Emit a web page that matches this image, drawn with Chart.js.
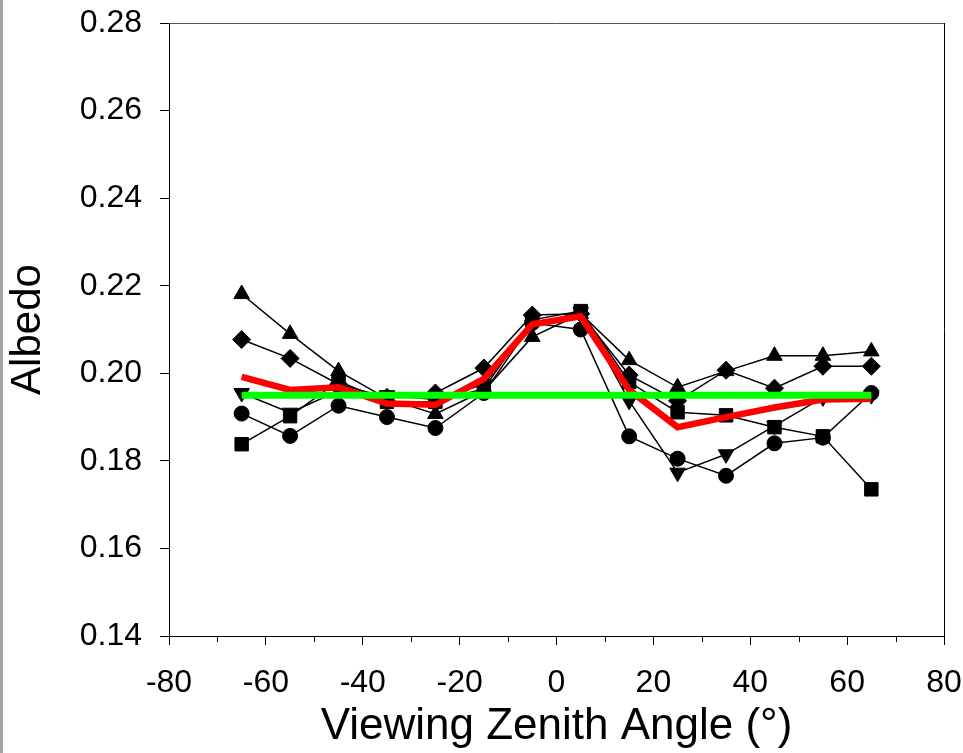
<!DOCTYPE html>
<html>
<head>
<meta charset="utf-8">
<title>Albedo vs viewing zenith angle</title>
<script src="https://cdn.jsdelivr.net/npm/chart.js@4"></script>
<style>
  html, body { margin: 0; padding: 0; background: #fff; }
  #wrap { position: relative; width: 963px; height: 753px; }
  #edge { position: absolute; left: 0; top: 0; width: 3px; height: 753px; background: #a6a6a6; }
</style>
</head>
<body>
<div id="wrap">
  <canvas id="albedo-chart" width="963" height="753"></canvas>
  <div id="edge"></div>
</div>
<script>
// viewing zenith angles (deg)
const ANGLES = [-65, -55, -45, -35, -25, -15, -5, 5, 15, 25, 35, 45, 55, 65];

// individual albedo runs
const RUN_TRI_UP   = [0.2181, 0.2090, 0.2005, 0.1942, 0.1907, 0.1960, 0.2083, 0.2136, 0.2030, 0.1968, 0.2005, 0.2040, 0.2040, 0.2050];
const RUN_DIAMOND  = [0.2077, 0.2034, 0.1975, 0.1945, 0.1955, 0.2012, 0.2133, 0.2136, 0.1996, 0.1937, 0.2007, 0.1966, 0.2016, 0.2016];
const RUN_TRI_DOWN = [0.1955, 0.1910, 0.1960, 0.1950, 0.1940, 0.1975, 0.2110, 0.2140, 0.1937, 0.1773, 0.1815, 0.1880, 0.1945, 0.1950];
const RUN_CIRCLE   = [0.1908, 0.1857, 0.1926, 0.1900, 0.1875, 0.1955, 0.2115, 0.2100, 0.1856, 0.1805, 0.1766, 0.1840, 0.1853, 0.1955];
const RUN_SQUARE   = [0.1838, 0.1902, 0.1982, 0.1935, 0.1935, 0.1965, 0.2122, 0.2142, 0.1980, 0.1911, 0.1904, 0.1877, 0.1856, 0.1735];

// mean curve and flat reference
const MEAN_ALBEDO = [0.1992, 0.1962, 0.1968, 0.1931, 0.1928, 0.1987, 0.2112, 0.2130, 0.1962, 0.1877, 0.1900, 0.1922, 0.1940, 0.1942];
const FLAT_ALBEDO = [0.195, 0.195, 0.195, 0.195, 0.195, 0.195, 0.195, 0.195, 0.195, 0.195, 0.195, 0.195, 0.195, 0.195];

const X_MIN = -80, X_MAX = 80, X_STEP = 20;
const Y_MIN = 0.14, Y_MAX = 0.28, Y_STEP = 0.02;

const FONT = "'Liberation Sans', Arial, sans-serif";

function toPoints(values) {
  return values.map((v, i) => ({ x: ANGLES[i], y: v }));
}

function runDataset(label, values, style, rotation, radius, order) {
  return {
    label,
    data: toPoints(values),
    borderColor: "#000",
    borderWidth: 1.5,
    backgroundColor: "#000",
    pointStyle: style,
    pointRotation: rotation,
    pointRadius: radius,
    pointBorderWidth: 1,
    pointBackgroundColor: "#000",
    pointBorderColor: "#000",
    tension: 0,
    order,
  };
}

/* frame: grey top edge, black right edge, short minor ticks on x */
const framePlugin = {
  id: "frame",
  afterDraw(chart) {
    const { ctx, chartArea: a } = chart;
    const xs = chart.scales.x;
    ctx.save();
    ctx.lineWidth = 1;
    ctx.strokeStyle = "#555";
    ctx.beginPath();
    ctx.moveTo(a.left, a.top + 0.5);
    ctx.lineTo(a.right, a.top + 0.5);
    ctx.stroke();
    ctx.strokeStyle = "#000";
    ctx.beginPath();
    ctx.moveTo(a.right + 0.5, a.top);
    ctx.lineTo(a.right + 0.5, a.bottom);
    ctx.stroke();
    for (let v = X_MIN + X_STEP / 2; v < X_MAX; v += X_STEP) {
      const px = Math.round(xs.getPixelForValue(v)) + 0.5;
      ctx.beginPath();
      ctx.moveTo(px, a.bottom);
      ctx.lineTo(px, a.bottom + 6);
      ctx.stroke();
    }
    ctx.restore();
  },
};

new Chart(document.getElementById("albedo-chart"), {
  type: "line",
  data: {
    datasets: [
      {
        label: "Flat",
        data: toPoints(FLAT_ALBEDO),
        borderColor: "#00ff00",
        borderWidth: 7,
        pointRadius: 0,
        tension: 0,
        order: 0,
      },
      {
        label: "Mean",
        data: toPoints(MEAN_ALBEDO),
        borderColor: "#ff0000",
        borderWidth: 6.5,
        pointRadius: 0,
        tension: 0,
        order: 1,
      },
      runDataset("Run 1", RUN_TRI_UP, "triangle", 0, 9, 2),
      runDataset("Run 2", RUN_DIAMOND, "rectRot", 0, 9, 3),
      runDataset("Run 3", RUN_TRI_DOWN, "triangle", 180, 9, 4),
      runDataset("Run 4", RUN_CIRCLE, "circle", 0, 7.5, 5),
      runDataset("Run 5", RUN_SQUARE, "rect", 0, 9.5, 6),
    ],
  },
  options: {
    responsive: false,
    animation: false,
    events: [],
    layout: { padding: { top: 23, right: 19, left: 0, bottom: 0 } },
    plugins: {
      legend: { display: false },
      tooltip: { enabled: false },
    },
    scales: {
      x: {
        type: "linear",
        min: X_MIN,
        max: X_MAX,
        ticks: {
          stepSize: X_STEP,
          color: "#000",
          padding: 19,
          maxRotation: 0,
          font: { family: FONT, size: 32 },
        },
        grid: { drawOnChartArea: false, tickLength: 9, tickColor: "#000", tickWidth: 1 },
        border: { color: "#000", width: 1 },
        title: {
          display: true,
          text: "Viewing Zenith Angle (°)",
          color: "#000",
          padding: { top: 0, bottom: 0 },
          font: { family: FONT, size: 44 },
        },
        afterFit: (s) => {
          s.height = 117;
          s.paddingLeft = 0;
          s.paddingRight = 0;
        },
      },
      y: {
        min: Y_MIN,
        max: Y_MAX,
        ticks: {
          stepSize: Y_STEP,
          color: "#000",
          padding: 18,
          font: { family: FONT, size: 32 },
          callback: (v) => Number(v).toFixed(2),
        },
        grid: { drawOnChartArea: false, tickLength: 9, tickColor: "#000", tickWidth: 1 },
        border: { color: "#000", width: 1 },
        title: {
          display: true,
          text: "Albedo",
          color: "#000",
          padding: { top: 3, bottom: 0 },
          font: { family: FONT, size: 42 },
        },
        afterFit: (s) => {
          s.width = 169;
          s.paddingTop = 0;
          s.paddingBottom = 0;
        },
      },
    },
  },
  plugins: [framePlugin],
});
</script>
</body>
</html>
